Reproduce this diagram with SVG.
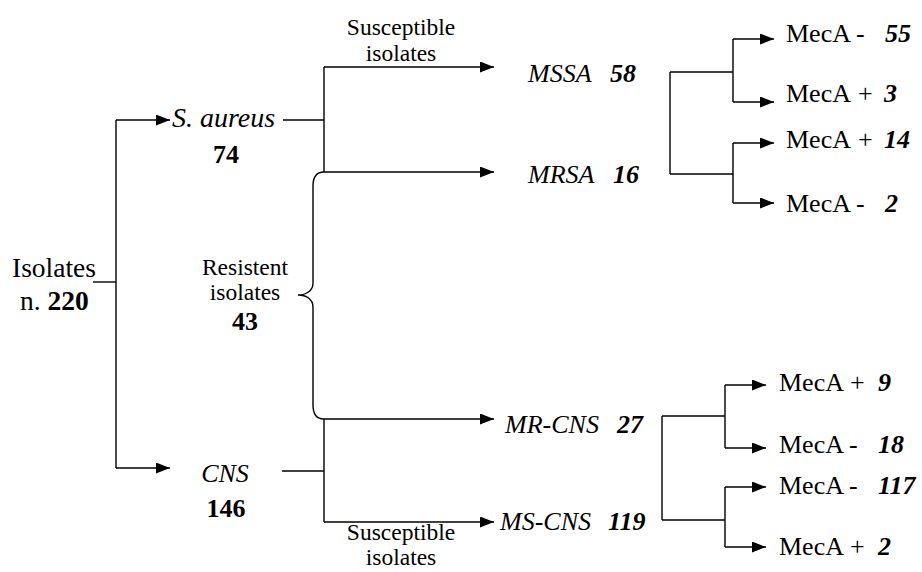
<svg xmlns="http://www.w3.org/2000/svg" width="922" height="572" viewBox="0 0 922 572">
<defs>
<marker id="ah" markerUnits="userSpaceOnUse" markerWidth="15" markerHeight="12" refX="14" refY="5.5" orient="auto">
<path d="M0,0 L14,5.5 L0,11 z" fill="#000"/>
</marker>
<style>
.t{font-family:'Liberation Serif','Times New Roman',Tinos,'DejaVu Serif',serif;fill:#000}
.r{font-size:26px}
.s{font-size:23.5px}
.big{font-size:27.5px}
.sa{font-size:28px}
.i{font-style:italic}
.b{font-weight:bold}
.bi{font-weight:bold;font-style:italic}
.c{text-anchor:middle}
.ln{fill:none;stroke:#000;stroke-width:1.4}
.ar{fill:none;stroke:#000;stroke-width:1.4;marker-end:url(#ah)}
</style>
</defs>
<rect width="922" height="572" fill="#fff"/>
<g id="connectors">
<path class="ln" d="M93,282 H116"/>
<path class="ln" d="M116,120 V468"/>
<path class="ar" d="M116,120 H170"/>
<path class="ar" d="M116,468 H170"/>
<path class="ln" d="M283,120 H324"/>
<path class="ln" d="M324,67 V172"/>
<path class="ar" d="M324,67 H494"/>
<path class="ar" d="M324,172 H494"/>
<path class="ln" d="M282,471 H324"/>
<path class="ln" d="M324,419 V522"/>
<path class="ar" d="M324,419 H494"/>
<path class="ar" d="M324,522 H494"/>
<path class="ln" d="M324,172 C317,172 313,176 313,186 L313,283 C313,291 306,295 298,295 C306,295 313,299 313,307 L313,405 C313,414 317,419 324,419"/>
<path class="ln" d="M670,72 V174 M670,72 H733 M670,174 H733"/>
<path class="ln" d="M733,39 V102 M733,143 V203"/>
<path class="ar" d="M733,39 H774"/>
<path class="ar" d="M733,102 H774"/>
<path class="ar" d="M733,143 H774"/>
<path class="ar" d="M733,203 H774"/>
<path class="ln" d="M662,416 V520 M662,416 H725 M662,520 H725"/>
<path class="ln" d="M725,385 V448 M725,487 V547"/>
<path class="ar" d="M725,385 H766"/>
<path class="ar" d="M725,448 H766"/>
<path class="ar" d="M725,487 H766"/>
<path class="ar" d="M725,547 H766"/>
</g>
<g id="isolates" class="t">
<text class="big" x="12" y="277">Isolates</text>
<text class="big" x="20" y="310">n. <tspan class="b">220</tspan></text>
</g>
<g id="saureus" class="t">
<text class="sa i" x="172" y="127">S. aureus</text>
<text class="r b c" x="226" y="163">74</text>
</g>
<g id="cns" class="t">
<text class="r i c" x="225" y="482">CNS</text>
<text class="r b c" x="226" y="517">146</text>
</g>
<g id="resistent" class="t">
<text class="s c" x="245" y="275">Resistent</text>
<text class="s c" x="245" y="300">isolates</text>
<text class="r b c" x="245" y="330">43</text>
</g>
<g id="susceptible-top" class="t">
<text class="s c" x="401" y="35">Susceptible</text>
<text class="s c" x="401" y="61">isolates</text>
</g>
<g id="susceptible-bottom" class="t">
<text class="s c" x="401" y="540">Susceptible</text>
<text class="s c" x="401" y="565">isolates</text>
</g>
<g id="mssa" class="t"><text class="r i" x="528" y="82">MSSA<tspan class="bi" x="610">58</tspan></text></g>
<g id="mrsa" class="t"><text class="r i" x="528" y="183">MRSA<tspan class="bi" x="613">16</tspan></text></g>
<g id="mrcns" class="t"><text class="r i" x="505" y="433">MR-CNS<tspan class="bi" x="617">27</tspan></text></g>
<g id="mscns" class="t"><text class="r i" x="500" y="530">MS-CNS<tspan class="bi" x="608">119</tspan></text></g>
<g id="meca-1" class="t"><text class="r" x="786" y="42">MecA -<tspan class="bi" x="885">55</tspan></text></g>
<g id="meca-2" class="t"><text class="r" x="786" y="102">MecA<tspan x="858">+</tspan><tspan class="bi" x="884">3</tspan></text></g>
<g id="meca-3" class="t"><text class="r" x="786" y="148">MecA<tspan x="858">+</tspan><tspan class="bi" x="884">14</tspan></text></g>
<g id="meca-4" class="t"><text class="r" x="786" y="212">MecA -<tspan class="bi" x="885">2</tspan></text></g>
<g id="meca-5" class="t"><text class="r" x="779" y="391">MecA<tspan x="850">+</tspan><tspan class="bi" x="878">9</tspan></text></g>
<g id="meca-6" class="t"><text class="r" x="779" y="453">MecA -<tspan class="bi" x="878">18</tspan></text></g>
<g id="meca-7" class="t"><text class="r" x="779" y="494">MecA -<tspan class="bi" x="878">117</tspan></text></g>
<g id="meca-8" class="t"><text class="r" x="779" y="555">MecA<tspan x="850">+</tspan><tspan class="bi" x="878">2</tspan></text></g>
</svg>
